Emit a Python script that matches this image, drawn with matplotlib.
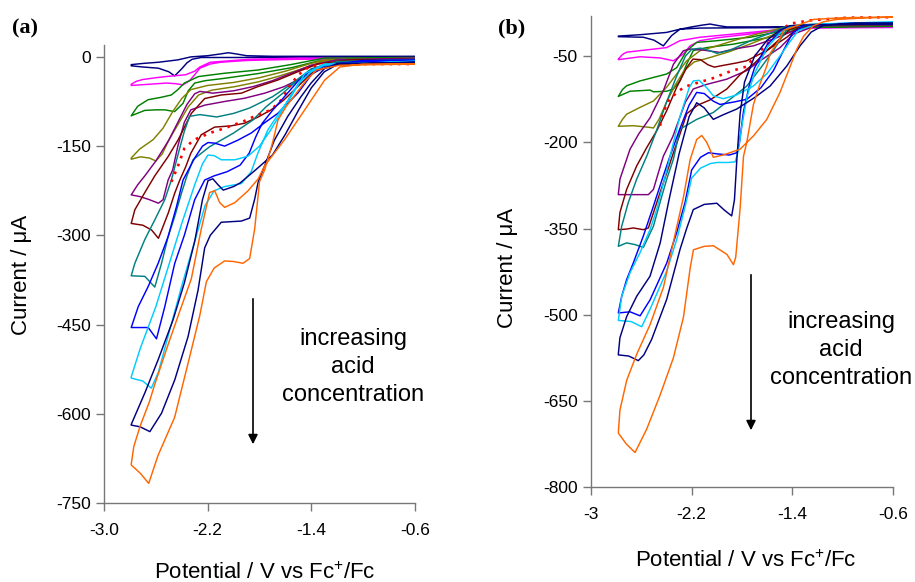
import matplotlib
matplotlib.use("Agg")
import matplotlib.pyplot as plt

plt.rcParams['font.family'] = ['Liberation Sans', 'DejaVu Sans']
plt.rcParams['mathtext.default'] = 'regular'
plt.rcParams['axes.unicode_minus'] = False

# ---- panel (a) loops: (potential V, current uA), traced right -> left end -> right
a_navy1 = [(-0.6, 0), (-1.6, -1), (-2.0, -1), (-2.25, -1), (-2.32, -4), (-2.36, -10), (-2.40, -20),
           (-2.455, -32), (-2.50, -25), (-2.58, -19), (-2.70, -17), (-2.79, -15),
           (-2.79, -13), (-2.70, -11), (-2.58, -9), (-2.43, -5), (-2.33, 0), (-2.2, 2), (-2.1, 5),
           (-2.04, 7), (-1.98, 5), (-1.9, 2), (-1.7, 1), (-0.6, 1)]
a_magenta = [(-0.6, -3), (-1.5, -4), (-1.9, -6), (-2.1, -9), (-2.18, -12), (-2.26, -19), (-2.30, -30),
             (-2.34, -40), (-2.39, -47), (-2.45, -45), (-2.52, -44), (-2.65, -46), (-2.79, -48),
             (-2.79, -46), (-2.75, -41), (-2.70, -38), (-2.60, -35), (-2.52, -33), (-2.37, -30),
             (-2.30, -24), (-2.26, -17), (-2.18, -9), (-2.0, -6), (-1.88, -4), (-1.5, -2), (-0.6, -2)]
a_green = [(-0.6, -3), (-1.0, -3), (-1.35, -7), (-1.55, -18), (-1.81, -28), (-2.07, -36), (-2.22, -40),
           (-2.30, -44), (-2.35, -57), (-2.39, -78), (-2.455, -92), (-2.53, -89), (-2.60, -89),
           (-2.686, -90), (-2.79, -99),
           (-2.79, -99), (-2.74, -83), (-2.66, -72), (-2.56, -68), (-2.48, -64), (-2.43, -55),
           (-2.38, -44), (-2.27, -33), (-2.07, -27.5), (-1.81, -22), (-1.56, -13), (-1.3, -2), (-0.6, -1)]
a_olive = [(-0.6, -3), (-1.3, -7), (-1.5, -22), (-1.66, -33), (-1.81, -42), (-1.99, -50), (-2.17, -56),
           (-2.27, -64), (-2.35, -84), (-2.43, -114), (-2.50, -140), (-2.55, -163), (-2.60, -175),
           (-2.65, -170), (-2.72, -168), (-2.79, -172),
           (-2.79, -170), (-2.725, -155), (-2.62, -139), (-2.545, -120), (-2.47, -92), (-2.40, -70),
           (-2.33, -55), (-2.2, -48), (-2.0, -43), (-1.8, -35), (-1.6, -24), (-1.45, -14), (-1.3, -5),
           (-0.6, -2)]
a_purple = [(-0.6, -4), (-1.2, -9), (-1.45, -33), (-1.61, -50), (-1.76, -61), (-1.915, -69.5),
            (-2.07, -75), (-2.22, -81), (-2.33, -89), (-2.38, -110), (-2.43, -150), (-2.47, -190),
            (-2.505, -207), (-2.544, -240), (-2.58, -246), (-2.65, -240), (-2.72, -235), (-2.79, -232),
            (-2.79, -232), (-2.74, -215), (-2.685, -200), (-2.6, -175), (-2.5, -140), (-2.43, -110),
            (-2.36, -80), (-2.30, -62), (-2.26, -58), (-2.16, -61), (-2.0, -57), (-1.85, -50),
            (-1.7, -40), (-1.55, -27), (-1.4, -14), (-1.2, -5), (-0.6, -2)]
a_maroon = [(-0.6, -6), (-1.1, -8), (-1.3, -15), (-1.4, -27.5), (-1.505, -50), (-1.61, -72), (-1.71, -89),
            (-1.81, -101), (-1.915, -111.5), (-2.02, -116), (-2.146, -118), (-2.25, -131), (-2.33, -162),
            (-2.37, -185), (-2.415, -207), (-2.454, -229), (-2.505, -263), (-2.58, -305), (-2.633, -291),
            (-2.70, -283), (-2.79, -280),
            (-2.79, -280), (-2.762, -257), (-2.685, -228), (-2.608, -200), (-2.505, -167.5),
            (-2.428, -139.5), (-2.326, -95), (-2.223, -70), (-2.095, -64), (-1.94, -61), (-1.813, -50),
            (-1.66, -39), (-1.505, -25), (-1.35, -12), (-1.1, -5), (-0.6, -4)]
a_teal = [(-0.6, -5), (-1.2, -10), (-1.4, -22), (-1.5, -38), (-1.62, -61), (-1.75, -84), (-1.85, -106),
          (-2.0, -128), (-2.185, -151), (-2.313, -173), (-2.36, -200), (-2.402, -229), (-2.454, -268),
          (-2.505, -302), (-2.556, -347), (-2.608, -387), (-2.685, -369), (-2.79, -368),
          (-2.79, -368), (-2.762, -347), (-2.685, -307), (-2.608, -274), (-2.531, -240), (-2.48, -207),
          (-2.43, -165), (-2.38, -125), (-2.34, -100), (-2.26, -97), (-2.13, -101), (-2.0, -95),
          (-1.877, -86), (-1.7, -67), (-1.544, -44), (-1.4, -20), (-1.2, -8), (-0.6, -4)]
a_red = [(-2.48, -210), (-2.43, -184), (-2.38, -154), (-2.31, -140), (-2.25, -134), (-2.17, -127),
         (-2.07, -120), (-1.92, -108), (-1.84, -100), (-1.71, -89), (-1.63, -72), (-1.57, -50),
         (-1.50, -30), (-1.42, -17), (-1.3, -12), (-0.6, -12)]
a_blue = [(-0.6, -7), (-1.0, -8), (-1.3, -13), (-1.4, -22), (-1.5, -40), (-1.6, -65), (-1.7, -90),
          (-1.78, -112), (-1.83, -135), (-1.88, -162), (-1.95, -182), (-2.05, -193), (-2.15, -200),
          (-2.223, -207), (-2.3, -240), (-2.38, -300), (-2.454, -347), (-2.531, -420), (-2.595, -474),
          (-2.659, -455), (-2.79, -455),
          (-2.79, -455), (-2.736, -420), (-2.659, -386), (-2.582, -347), (-2.505, -302), (-2.441, -252),
          (-2.39, -207), (-2.3, -170), (-2.24, -150), (-2.197, -144), (-2.146, -145), (-2.069, -150),
          (-1.967, -140), (-1.864, -128), (-1.762, -111), (-1.659, -95), (-1.582, -78), (-1.505, -61),
          (-1.45, -45), (-1.4, -30), (-1.3, -15), (-1.0, -6), (-0.6, -5)]
a_cyan = [(-0.6, -8), (-1.3, -12), (-1.45, -28), (-1.556, -67), (-1.633, -89), (-1.736, -123),
          (-1.813, -162), (-1.864, -193), (-1.94, -213), (-2.069, -218), (-2.15, -225), (-2.22, -250),
          (-2.3, -310), (-2.4, -385), (-2.5, -465), (-2.58, -530), (-2.635, -557), (-2.7, -545),
          (-2.79, -540),
          (-2.79, -538), (-2.72, -490), (-2.6, -420), (-2.5, -350), (-2.4, -280), (-2.3, -215),
          (-2.24, -180), (-2.198, -165), (-2.15, -166), (-2.095, -173), (-1.99, -173), (-1.89, -167),
          (-1.80, -150), (-1.72, -125), (-1.65, -100), (-1.56, -65), (-1.5, -45), (-1.4, -25),
          (-1.3, -14), (-0.6, -7)]
a_navy2 = [(-0.6, -9), (-1.2, -11), (-1.3, -20), (-1.402, -44), (-1.48, -67), (-1.582, -100),
           (-1.685, -140), (-1.762, -184), (-1.81, -210), (-1.837, -239), (-1.876, -271), (-1.94, -276),
           (-2.095, -278), (-2.18, -300), (-2.223, -321), (-2.274, -392), (-2.351, -470), (-2.454, -543),
           (-2.556, -599), (-2.646, -630), (-2.72, -622), (-2.79, -619),
           (-2.79, -618), (-2.685, -565), (-2.582, -509), (-2.467, -442), (-2.38, -380), (-2.30, -310),
           (-2.24, -240), (-2.197, -208), (-2.16, -205), (-2.12, -215), (-2.08, -224), (-2.0, -218),
           (-1.95, -212), (-1.83, -190), (-1.70, -165), (-1.6, -130), (-1.5, -90), (-1.4, -52),
           (-1.3, -25), (-1.2, -13), (-0.6, -9)]
a_orange = [(-0.6, -12), (-1.18, -14), (-1.36, -22), (-1.438, -39), (-1.516, -61), (-1.593, -83),
            (-1.657, -106), (-1.70, -145), (-1.76, -190), (-1.80, -210), (-1.837, -289), (-1.876, -339),
            (-1.927, -347), (-2.0, -344), (-2.069, -343), (-2.15, -355), (-2.21, -378), (-2.26, -434),
            (-2.34, -505), (-2.455, -606), (-2.583, -670), (-2.655, -717), (-2.72, -700), (-2.79, -686),
            (-2.79, -685), (-2.77, -655), (-2.72, -620), (-2.65, -580), (-2.609, -551), (-2.506, -484),
            (-2.416, -428), (-2.326, -373), (-2.249, -289), (-2.185, -228), (-2.146, -225),
            (-2.107, -245), (-2.069, -253), (-1.99, -245), (-1.888, -225), (-1.81, -205), (-1.76, -183),
            (-1.606, -139), (-1.451, -89), (-1.297, -39), (-1.18, -17), (-1.0, -12), (-0.6, -12)]

# ---- panel (b) loops
b_navy1 = [(-0.6, 2), (-1.34, 0), (-2.133, -1), (-2.293, -3), (-2.359, -14), (-2.425, -32), (-2.50, -22),
           (-2.584, -17), (-2.783, -16),
           (-2.783, -15), (-2.61, -12.6), (-2.4, -8.6), (-2.293, -3), (-2.2, 1), (-2.12, 4), (-2.054, 6),
           (-1.98, 3), (-1.92, 1), (-1.6, 1), (-0.6, 3)]
b_magenta = [(-0.6, 0), (-1.3, -1), (-1.6, -8), (-2.0, -18), (-2.134, -23), (-2.213, -32), (-2.266, -46),
             (-2.345, -58), (-2.451, -53), (-2.61, -51), (-2.783, -56),
             (-2.783, -55), (-2.75, -47), (-2.717, -43), (-2.557, -39), (-2.399, -35), (-2.293, -23),
             (-2.134, -17), (-1.869, -11.5), (-1.604, -5.7), (-1.3, 0), (-0.6, 1)]
b_green = [(-0.6, 2), (-1.3, 0), (-1.444, -8.6), (-1.604, -18), (-1.869, -29), (-2.08, -35), (-2.187, -40),
           (-2.24, -64), (-2.293, -93), (-2.345, -107), (-2.399, -111), (-2.504, -112), (-2.53, -109),
           (-2.69, -111), (-2.783, -120),
           (-2.783, -120), (-2.75, -108), (-2.717, -101.5), (-2.61, -93), (-2.504, -87), (-2.399, -81),
           (-2.319, -70), (-2.24, -40.5), (-2.16, -26), (-2.0, -23), (-1.736, -17), (-1.47, -5.7),
           (-1.3, 1), (-0.6, 3)]
b_olive = [(-0.6, 4), (-1.3, 3), (-1.45, -3), (-1.6, -17), (-1.75, -30), (-1.9, -42), (-2.05, -52),
           (-2.18, -60), (-2.26, -75), (-2.33, -100), (-2.40, -130), (-2.46, -160), (-2.504, -175),
           (-2.53, -174), (-2.664, -171), (-2.783, -172),
           (-2.783, -172), (-2.75, -160), (-2.717, -151), (-2.61, -139), (-2.504, -128), (-2.399, -104),
           (-2.319, -81), (-2.24, -58), (-2.134, -40.5), (-2.0, -32), (-1.869, -23), (-1.683, -11.5),
           (-1.47, 0), (-1.2, 4), (-0.6, 4)]
b_purple = [(-0.6, 4), (-1.2, 4), (-1.392, -11.5), (-1.497, -35), (-1.657, -58), (-1.763, -75),
            (-1.921, -90), (-2.08, -99), (-2.187, -107), (-2.25, -130), (-2.30, -160), (-2.35, -190),
            (-2.398, -212), (-2.425, -224), (-2.465, -253), (-2.504, -282), (-2.544, -291), (-2.65, -291),
            (-2.783, -291),
            (-2.783, -291), (-2.77, -264), (-2.73, -238), (-2.69, -212), (-2.62, -185), (-2.53, -157),
            (-2.425, -110), (-2.345, -64), (-2.266, -40.5), (-2.213, -37.6), (-2.107, -39.4),
            (-1.975, -43.4), (-1.869, -37.6), (-1.71, -32), (-1.55, -20), (-1.392, -6), (-1.2, 3), (-0.6, 4)]
b_maroon = [(-0.6, 5), (-1.3, 5), (-1.42, -3), (-1.5, -20), (-1.6, -40), (-1.7, -62), (-1.815, -82),
            (-1.92, -107), (-2.053, -126), (-2.15, -135), (-2.239, -150), (-2.3, -190), (-2.345, -218),
            (-2.398, -253), (-2.452, -288), (-2.544, -349), (-2.584, -352), (-2.664, -349), (-2.72, -351),
            (-2.783, -352),
            (-2.783, -352), (-2.77, -322), (-2.717, -282), (-2.637, -241), (-2.557, -209), (-2.478, -180),
            (-2.399, -145), (-2.319, -104), (-2.24, -70), (-2.19, -55), (-2.13, -56), (-2.07, -65),
            (-2.02, -69), (-1.95, -66), (-1.85, -62), (-1.763, -58), (-1.604, -40), (-1.444, -17),
            (-1.35, 0), (-1.2, 4), (-0.6, 5)]
b_teal = [(-0.6, 6), (-1.2, 6), (-1.42, 3), (-1.47, -12), (-1.55, -40), (-1.65, -70), (-1.762, -102),
          (-1.895, -125), (-2.028, -148), (-2.16, -160), (-2.293, -177), (-2.345, -229), (-2.398, -264),
          (-2.452, -305), (-2.504, -346), (-2.584, -383), (-2.65, -378), (-2.717, -375), (-2.783, -381),
          (-2.783, -381), (-2.756, -346), (-2.704, -305), (-2.637, -264), (-2.557, -224), (-2.48, -180),
          (-2.40, -130), (-2.32, -85), (-2.25, -50), (-2.2, -38), (-2.13, -36), (-2.06, -40), (-2.0, -45),
          (-1.9, -40), (-1.8, -30), (-1.7, -20), (-1.55, -8), (-1.45, 2), (-1.2, 5), (-0.6, 5)]
b_red = [(-2.451, -171), (-2.43, -150), (-2.385, -128), (-2.319, -113), (-2.253, -103), (-2.173, -97.5),
         (-2.041, -89), (-1.895, -76.5), (-1.763, -68), (-1.71, -53), (-1.60, -29), (-1.5, -6),
         (-1.418, 6.5), (-1.259, 12.4), (-0.967, 17), (-0.6, 18)]
b_blue = [(-0.6, 6), (-1.2, 5), (-1.42, 2), (-1.5, -8), (-1.6, -30), (-1.7, -70), (-1.735, -94),
          (-1.788, -146), (-1.82, -200), (-1.841, -218), (-1.9, -222), (-2.0, -220), (-2.066, -218),
          (-2.13, -226), (-2.2, -248), (-2.253, -305), (-2.319, -357), (-2.398, -410), (-2.53, -474),
          (-2.61, -502), (-2.69, -495), (-2.783, -497),
          (-2.783, -497), (-2.756, -468), (-2.717, -439), (-2.664, -410), (-2.584, -363), (-2.504, -311),
          (-2.425, -258), (-2.372, -224), (-2.30, -180), (-2.22, -135), (-2.16, -113), (-2.10, -115),
          (-2.03, -128), (-1.975, -134), (-1.87, -130), (-1.762, -125), (-1.65, -105), (-1.55, -75),
          (-1.47, -40), (-1.40, -10), (-1.3, 4), (-1.0, 7), (-0.6, 8)]
b_cyan = [(-0.6, 8), (-1.2, 6), (-1.42, 2), (-1.5, -10), (-1.6, -35), (-1.7, -80), (-1.76, -120),
          (-1.80, -170), (-1.83, -215), (-1.854, -234), (-1.909, -235), (-2.0, -235), (-2.053, -237),
          (-2.13, -245), (-2.2, -262), (-2.25, -310), (-2.32, -370), (-2.40, -425), (-2.53, -490),
          (-2.597, -521), (-2.68, -512), (-2.783, -510),
          (-2.783, -510), (-2.756, -468), (-2.69, -427), (-2.61, -392), (-2.531, -352), (-2.478, -317),
          (-2.40, -250), (-2.30, -160), (-2.22, -105), (-2.187, -93), (-2.14, -92), (-2.08, -105),
          (-2.028, -119), (-1.95, -124), (-1.85, -118), (-1.71, -102), (-1.6, -80), (-1.5, -50),
          (-1.42, -25), (-1.35, -5), (-1.2, 6), (-0.6, 10)]
b_navy2 = [(-0.6, 6), (-1.2, 5), (-1.42, 3), (-1.5, -5), (-1.6, -22), (-1.7, -50), (-1.78, -95),
           (-1.815, -150), (-1.841, -230), (-1.86, -300), (-1.882, -328), (-1.94, -318), (-2.0, -306),
           (-2.1, -308), (-2.187, -317), (-2.24, -350), (-2.292, -386), (-2.398, -473), (-2.518, -543),
           (-2.58, -570), (-2.624, -580), (-2.7, -572), (-2.783, -570),
           (-2.783, -569), (-2.77, -540), (-2.716, -503), (-2.637, -468), (-2.531, -433), (-2.45, -375),
           (-2.38, -300), (-2.3, -220), (-2.22, -155), (-2.16, -131), (-2.10, -140), (-2.028, -160),
           (-1.95, -152), (-1.842, -142), (-1.7, -122), (-1.577, -102), (-1.444, -67), (-1.339, -32),
           (-1.25, -8), (-1.15, 4), (-0.9, 8), (-0.6, 8)]
b_orange = [(-0.6, 18), (-1.0, 17), (-1.233, 14), (-1.365, 3), (-1.47, -5), (-1.498, -20), (-1.576, -45),
            (-1.603, -67), (-1.66, -100), (-1.71, -135), (-1.762, -200), (-1.788, -224), (-1.815, -315),
            (-1.85, -400), (-1.868, -413), (-1.92, -395), (-2.027, -380), (-2.1, -381), (-2.186, -387),
            (-2.212, -419), (-2.265, -504), (-2.345, -575), (-2.451, -640), (-2.557, -699),
            (-2.65, -740), (-2.72, -725), (-2.783, -706),
            (-2.783, -706), (-2.77, -666), (-2.716, -614), (-2.637, -569), (-2.53, -517), (-2.424, -452),
            (-2.345, -373), (-2.265, -295), (-2.212, -230), (-2.16, -195), (-2.12, -188), (-2.08, -200),
            (-2.028, -226), (-1.95, -222), (-1.816, -212), (-1.71, -189), (-1.603, -160), (-1.498, -113),
            (-1.43, -75), (-1.365, -38), (-1.31, -15), (-1.233, 3), (-1.15, 10), (-1.05, 14), (-0.8, 17),
            (-0.6, 18)]

colors = ['#000080', '#FF00FF', '#008000', '#808000', '#800080', '#800000', '#008080',
          '#FF0000', '#0000FF', '#00CCFF', '#000080', '#FF6600']
curves_a = [a_navy1, a_magenta, a_green, a_olive, a_purple, a_maroon, a_teal,
            a_red, a_blue, a_cyan, a_navy2, a_orange]
curves_b = [b_navy1, b_magenta, b_green, b_olive, b_purple, b_maroon, b_teal,
            b_red, b_blue, b_cyan, b_navy2, b_orange]

xticks = [-3.0, -2.2, -1.4, -0.6]
yticks_a = [0, -150, -300, -450, -600, -750]
yticks_b = [-50, -200, -350, -500, -650, -800]

W, H = 915.0, 582.0


def fx(px):
    return px / W


def fy(py):
    return 1 - py / H


fig = plt.figure(figsize=(9.15, 5.82), dpi=100)
ax_a = fig.add_axes([fx(104), fy(503), fx(415) - fx(104), fy(45) - fy(503)])
ax_b = fig.add_axes([fx(591), fy(487), fx(893) - fx(591), fy(16) - fy(487)])

spine_col = '#777777'


def draw(ax, curves, ylim, yticks, xlabels):
    for pts, c in zip(curves, colors):
        e, i = zip(*pts)
        if c == '#FF0000':
            ax.plot(e, i, color=c, lw=1.9, linestyle=(0, (1, 2.2)))
        else:
            ax.plot(e, i, color=c, lw=1.05, solid_joinstyle='round')
    ax.set_xlim(-3.0, -0.6)
    ax.set_ylim(*ylim)
    ax.set_xticks(xticks)
    ax.set_xticklabels(xlabels)
    ax.set_yticks(yticks)
    ax.set_yticklabels([str(v) for v in yticks])
    for s in ['top', 'right']:
        ax.spines[s].set_visible(False)
    for s in ['left', 'bottom']:
        ax.spines[s].set_color(spine_col)
        ax.spines[s].set_linewidth(1.0)
    ax.tick_params(axis='both', direction='out', length=5.5, width=1.0, color=spine_col,
                   labelsize=12.5, labelcolor='black')
    ax.tick_params(axis='x', pad=9)
    ax.tick_params(axis='y', pad=4)
    ax.patch.set_visible(False)


draw(ax_a, curves_a, (-750, 20), yticks_a, ['-3.0', '-2.2', '-1.4', '-0.6'])
draw(ax_b, curves_b, (-800, 20), yticks_b, ['-3', '-2.2', '-1.4', '-0.6'])

# panel letters
fig.text(fx(12), fy(28), '(a)', family=['Liberation Serif', 'DejaVu Serif'], weight='bold',
         fontsize=16, ha='left', va='center')
fig.text(fx(498), fy(28), '(b)', family=['Liberation Serif', 'DejaVu Serif'], weight='bold',
         fontsize=16, ha='left', va='center')

# axis labels
ylab = 'Current / \u03bcA'
xlab = 'Potential / V vs Fc$^{+}$/Fc'
fig.text(fx(22), fy(275), ylab, rotation=90, fontsize=16, ha='center', va='center')
fig.text(fx(507), fy(268), ylab, rotation=90, fontsize=16, ha='center', va='center')
fig.text(fx(265), fy(573), xlab, fontsize=16, ha='center', va='center')
fig.text(fx(746), fy(561), xlab, fontsize=16, ha='center', va='center')

# arrows and annotation text
note = 'increasing\nacid\nconcentration'
fig.text(fx(353), fy(367), note, fontsize=17, ha='center', va='center', linespacing=1.38)
fig.text(fx(841), fy(350), note, fontsize=17, ha='center', va='center', linespacing=1.38)
for x0, y0, y1 in [(253, 296, 447), (751, 272, 433)]:
    fig.add_artist(matplotlib.patches.FancyArrowPatch(
        (fx(x0), fy(y0)), (fx(x0), fy(y1)), transform=fig.transFigure,
        arrowstyle='-|>', mutation_scale=14, color='black', lw=1.2))

fig.savefig('out.png', dpi=100)
